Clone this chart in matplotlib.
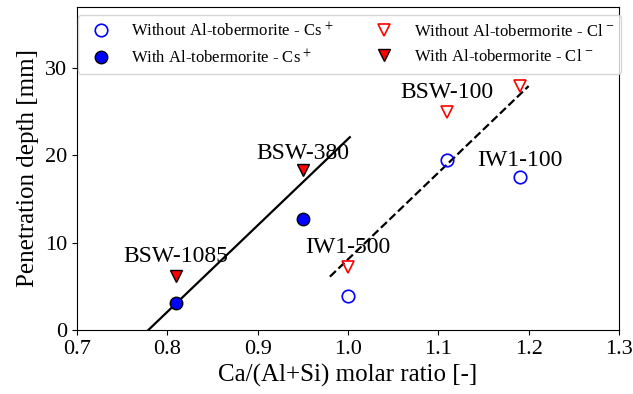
import numpy as np
import matplotlib.pyplot as plt

plt.rcParams['font.family'] = ['Liberation Serif', 'DejaVu Serif']
plt.rcParams['mathtext.fontset'] = 'stix'

# Cs+ penetration
cs_wo_x = [1.00, 1.11, 1.19]
cs_wo_y = [3.9, 19.5, 17.5]
cs_w_x = [0.81, 0.95]
cs_w_y = [3.05, 12.7]

# Cl- penetration
cl_wo_x = [1.00, 1.11, 1.19]
cl_wo_y = [7.2, 24.9, 27.9]
cl_w_x = [0.81, 0.95]
cl_w_y = [6.2, 18.3]

# trend lines
fit_w_x = [0.779, 1.002]
fit_w_y = [0.0, 22.05]
fit_wo_x = [0.980, 1.200]
fit_wo_y = [6.1, 27.9]

labels = ['BSW-1085', 'BSW-380', 'IW1-500', 'BSW-100', 'IW1-100']
label_x = [0.809, 0.950, 1.000, 1.110, 1.190]
label_y = [7.8, 19.6, 8.85, 26.5, 18.75]

fig = plt.figure(figsize=(6.33, 3.94), dpi=100)
ax = fig.add_axes([77 / 633, 64 / 394, 542 / 633, 323.5 / 394])

ax.plot(fit_w_x, fit_w_y, 'k-', lw=1.6)
ax.plot(fit_wo_x, fit_wo_y, 'k--', lw=1.6)

ax.plot(cs_wo_x, cs_wo_y, 'o', ms=9, mfc='none', mec='b', mew=1.2, ls='none',
        label=r'Without Al-tobermorite - Cs$^{\,+}$')
ax.plot(cs_w_x, cs_w_y, 'o', ms=9, mfc='b', mec='k', mew=1.0, ls='none',
        label=r'With Al-tobermorite - Cs$^{\,+}$')
ax.plot(cl_wo_x, cl_wo_y, 'v', ms=9, mfc='none', mec='r', mew=1.2, ls='none',
        label=r'Without Al-tobermorite - Cl$^{\,-}$')
ax.plot(cl_w_x, cl_w_y, 'v', ms=9, mfc='r', mec='k', mew=1.0, ls='none',
        label=r'With Al-tobermorite - Cl$^{\,-}$')

for t, x, y in zip(labels, label_x, label_y):
    ax.text(x, y, t, fontsize=17, ha='center', va='baseline')

ax.set_xlim(0.7, 1.3)
ax.set_ylim(0, 37)
ax.set_yticks([0, 10, 20, 30])
ax.set_xlabel('Ca/(Al+Si) molar ratio [-]', fontsize=18)
ax.set_ylabel('Penetration depth [mm]', fontsize=18)
ax.tick_params(labelsize=16)
ax.legend(ncol=2, loc='upper right', fontsize=12,
          bbox_to_anchor=(621 / 633, 1 - 15 / 394),
          bbox_transform=fig.transFigure, borderaxespad=0)

plt.savefig('out.png', dpi=100)
